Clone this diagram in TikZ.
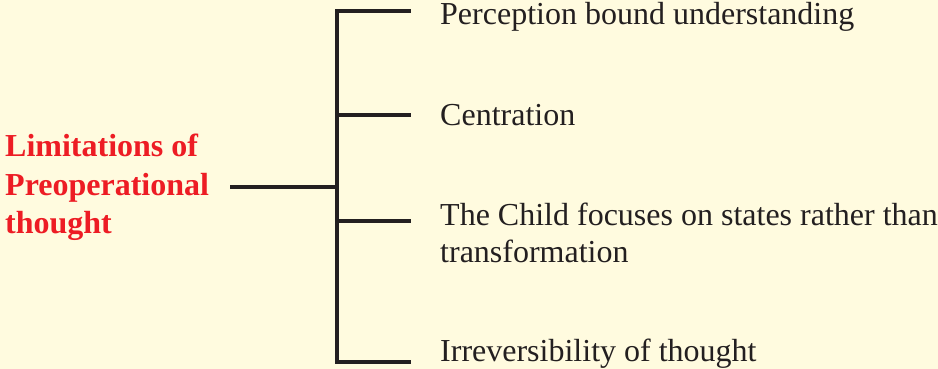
\documentclass[tikz,border=0pt]{standalone}
\usepackage{fontspec}
\setmainfont{Liberation Serif}
\definecolor{paper}{RGB}{255,251,223}
\definecolor{headred}{RGB}{237,28,36}
\definecolor{ink}{RGB}{35,31,32}
\begin{document}
\begin{tikzpicture}[x=1pt,y=-1pt,
  link/.style={draw=ink,line width=3.2pt,line cap=rect},
  item/.style={anchor=base west,inner sep=0pt,font=\fontsize{32}{37}\selectfont,text=ink},
  head/.style={anchor=base west,inner sep=0pt,font=\fontsize{32}{37}\selectfont\bfseries,text=headred}]
  \fill[paper] (0,0) rectangle (938,369);
  \useasboundingbox (0,0) rectangle (938,369);

  % heading on the left
  \node[head] (h1) at (5,157) {Limitations of};
  \node[head] (h2) at (5,195) {Preoperational};
  \node[head] (h3) at (5,233) {thought};

  % branch texts
  \node[item] (t1) at (440,25) {Perception bound understanding};
  \node[item] (t2) at (440,125) {Centration};
  \node[item] (t3) at (440,225) {The Child focuses on states rather than};
  \node[item] (t3b) at (440,262) {transformation};
  \node[item] (t4) at (440,361) {Irreversibility of thought};

  % tree coordinates
  \coordinate (root) at (232,187);
  \coordinate (hub) at (337,187);
  \coordinate (c1) at (337,11);
  \coordinate (c2) at (337,115);
  \coordinate (c3) at (337,221);
  \coordinate (c4) at (337,362);
  \coordinate (e1) at (409,11);
  \coordinate (e2) at (409,115);
  \coordinate (e3) at (409,221);
  \coordinate (e4) at (409,362);

  \draw[link] (root) -- (hub);
  \draw[link] (e1) -- (c1) -- (c4) -- (e4);
  \draw[link] (c2) -- (e2);
  \draw[link] (c3) -- (e3);
\end{tikzpicture}
\end{document}
